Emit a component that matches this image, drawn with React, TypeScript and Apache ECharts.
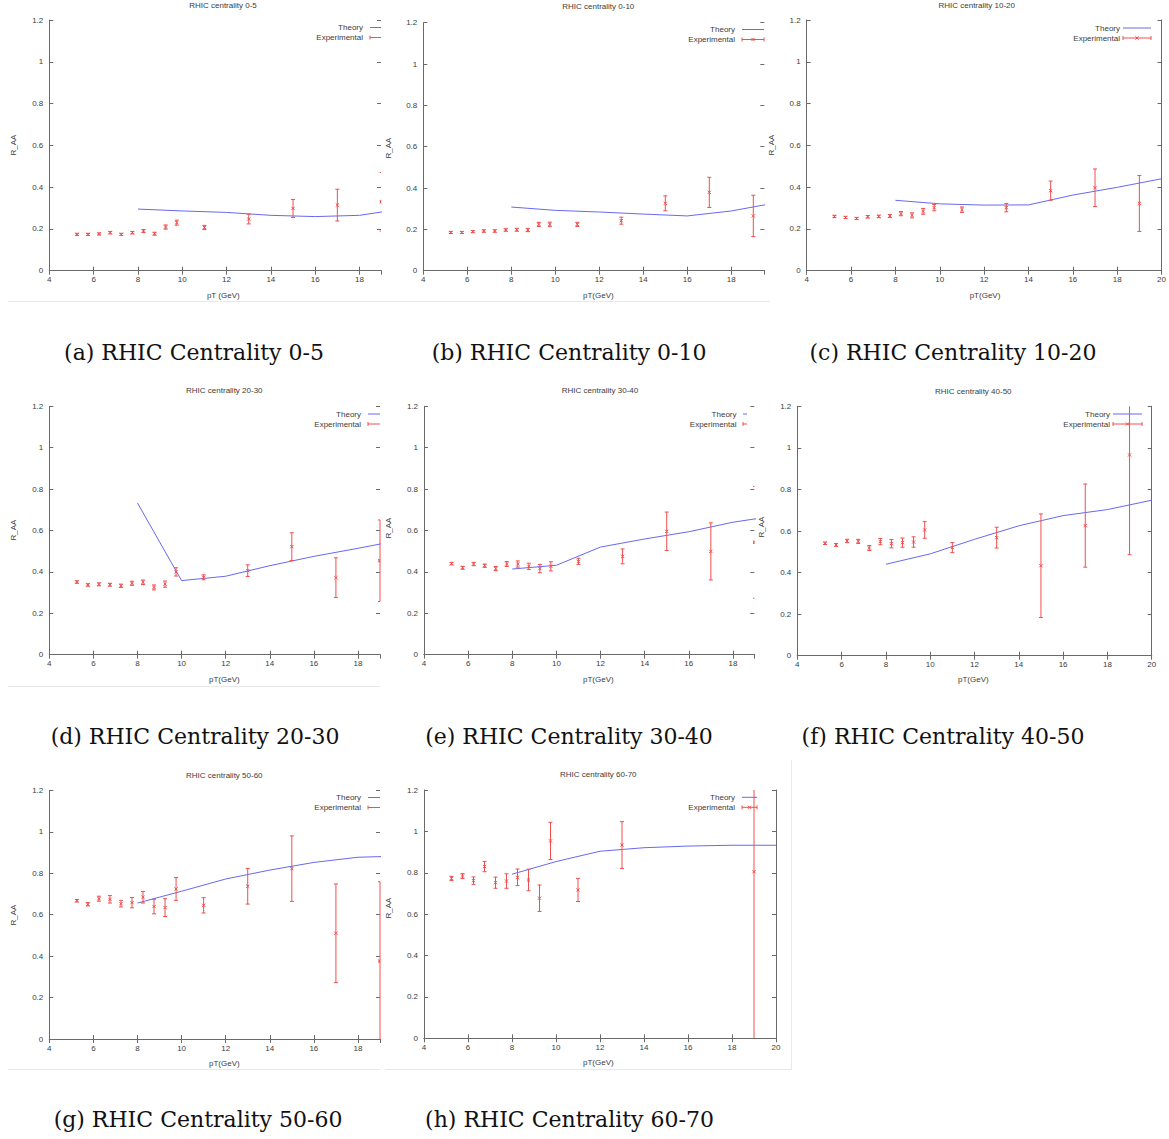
import React, { useEffect, useRef } from 'react';
import * as echarts from 'echarts';

// ---------- DATA ----------
const expX = [5.25, 5.75, 6.25, 6.75, 7.25, 7.75, 8.25, 8.75, 9.25, 9.75, 11, 13, 15, 17, 19];
const expXH = [5.25, 5.75, 6.25, 6.75, 7.25, 7.75, 8.25, 8.75, 9.25, 9.75, 11, 13, 19];
const theoryX = [8, 10, 12, 14, 16, 18, 20];
const yTicks = [0, 0.2, 0.4, 0.6, 0.8, 1, 1.2];

const expA = [0.174, 0.174, 0.176, 0.182, 0.174, 0.182, 0.19, 0.177, 0.209, 0.23, 0.207, 0.247, 0.298, 0.314, 0.33];
const errA = [0.005, 0.005, 0.005, 0.006, 0.005, 0.006, 0.007, 0.007, 0.01, 0.012, 0.01, 0.023, 0.043, 0.076, 0.14];
const theoryA = [0.295, 0.286, 0.279, 0.265, 0.259, 0.265, 0.297];

const expB = [0.185, 0.185, 0.189, 0.192, 0.192, 0.197, 0.198, 0.197, 0.224, 0.224, 0.224, 0.242, 0.326, 0.379, 0.265];
const errB = [0.005, 0.005, 0.005, 0.006, 0.006, 0.006, 0.007, 0.008, 0.01, 0.011, 0.01, 0.017, 0.036, 0.073, 0.1];
const theoryB = [0.308, 0.292, 0.284, 0.274, 0.265, 0.289, 0.328];

const expC = [0.26, 0.255, 0.25, 0.258, 0.26, 0.262, 0.273, 0.265, 0.284, 0.302, 0.292, 0.302, 0.383, 0.397, 0.322];
const errC = [0.005, 0.005, 0.005, 0.006, 0.006, 0.007, 0.01, 0.012, 0.014, 0.015, 0.013, 0.02, 0.046, 0.09, 0.134];
const theoryC = [0.337, 0.32, 0.314, 0.315, 0.362, 0.399, 0.44];

const expD = [0.351, 0.337, 0.34, 0.338, 0.333, 0.345, 0.35, 0.325, 0.341, 0.4, 0.374, 0.406, 0.522, 0.372, 0.454];
const errD = [0.006, 0.006, 0.007, 0.007, 0.008, 0.01, 0.011, 0.012, 0.015, 0.02, 0.012, 0.028, 0.067, 0.096, 0.197];
const theoryD = [0.733, 0.358, 0.379, 0.43, 0.475, 0.514, 0.555];

const expE = [0.44, 0.42, 0.438, 0.43, 0.416, 0.438, 0.438, 0.427, 0.416, 0.427, 0.451, 0.475, 0.596, 0.499, 0.543];
const errE = [0.006, 0.007, 0.008, 0.008, 0.01, 0.012, 0.015, 0.015, 0.02, 0.022, 0.015, 0.036, 0.093, 0.138, 0.27];
const theoryE = [0.414, 0.432, 0.52, 0.559, 0.594, 0.64, 0.672];

const expF = [0.541, 0.533, 0.552, 0.55, 0.518, 0.549, 0.539, 0.544, 0.547, 0.605, 0.52, 0.568, 0.433, 0.626, 0.966];
const errF = [0.006, 0.007, 0.008, 0.01, 0.012, 0.015, 0.02, 0.022, 0.025, 0.04, 0.024, 0.05, 0.249, 0.2, 0.48];
const theoryF = [0.44, 0.49, 0.56, 0.625, 0.674, 0.703, 0.748];

const expG = [0.667, 0.65, 0.677, 0.674, 0.653, 0.658, 0.684, 0.639, 0.634, 0.724, 0.645, 0.737, 0.822, 0.51, 0.376];
const errG = [0.006, 0.008, 0.012, 0.018, 0.016, 0.025, 0.028, 0.035, 0.043, 0.055, 0.037, 0.086, 0.158, 0.238, 0.383];
const theoryG = [0.656, 0.713, 0.772, 0.815, 0.852, 0.877, 0.883];

const expH = [0.773, 0.784, 0.762, 0.83, 0.752, 0.76, 0.778, 0.765, 0.677, 0.954, 0.717, 0.934, 0.805];
const errH = [0.01, 0.012, 0.018, 0.025, 0.027, 0.035, 0.04, 0.052, 0.064, 0.09, 0.056, 0.113, 0.95];
const theoryH = [0.793, 0.854, 0.904, 0.921, 0.929, 0.933, 0.933];

const titles = [
  'RHIC centrality 0-5', 'RHIC centrality 0-10', 'RHIC centrality 10-20', 'RHIC centrality 20-30',
  'RHIC centrality 30-40', 'RHIC centrality 40-50', 'RHIC centrality 50-60', 'RHIC centrality 60-70',
];
const captions = [
  '(a) RHIC Centrality 0-5', '(b) RHIC Centrality 0-10', '(c) RHIC Centrality 10-20', '(d) RHIC Centrality 20-30',
  '(e) RHIC Centrality 30-40', '(f) RHIC Centrality 40-50', '(g) RHIC Centrality 50-60', '(h) RHIC Centrality 60-70',
];
const xNames = ['pT (GeV)', 'pT(GeV)', 'pT(GeV)', 'pT(GeV)', 'pT(GeV)', 'pT(GeV)', 'pT(GeV)', 'pT(GeV)'];
// visible (cropped) x-range of each screenshot
const xMaxes = [18.97, 19.5, 20, 19, 18.97, 20, 19, 20];

const expSets = [
  [expX, expA, errA], [expX, expB, errB], [expX, expC, errC], [expX, expD, errD],
  [expX, expE, errE], [expX, expF, errF], [expX, expG, errG], [expXH, expH, errH],
];
const theorySets = [theoryA, theoryB, theoryC, theoryD, theoryE, theoryF, theoryG, theoryH];

// ---------- LAYOUT (positions/sizes only) ----------
const LAYOUT = [
  { grid: [49.3, 20, 331.7, 250.7], rightLine: false, title: [223, 5.5], xl: [223.3, 295], yl: [13, 145], leg: [363, 27.5, 37.5, 370, 28, 381], cap: [194, 352] },
  { grid: [423.3, 22.7, 341, 248], rightLine: false, title: [598.3, 6.5], xl: [598.3, 295], yl: [388, 148], leg: [735, 29.5, 39.5, 742, 22, 764.3], cap: [569, 352] },
  { grid: [806.7, 20, 355, 250.7], rightLine: true, title: [976.7, 5.7], xl: [985, 295], yl: [771, 145], leg: [1120, 28, 38, 1123, 28, 1162], cap: [953, 352] },
  { grid: [49.3, 406.3, 330.7, 248.4], rightLine: false, title: [224.3, 390.3], xl: [224.3, 679], yl: [13, 530], leg: [361, 414, 424, 368, 28, 380], cap: [195, 736] },
  { grid: [424, 406.3, 330.3, 248.4], rightLine: false, title: [600, 390.7], xl: [598.3, 679], yl: [388, 528], leg: [736.5, 414, 424, 743, 28, 747], cap: [569, 736] },
  { grid: [797.3, 406.3, 354.4, 249.4], rightLine: true, title: [973.3, 391], xl: [973.3, 679.7], yl: [761, 527], leg: [1110, 414, 424, 1113, 29, 1152], cap: [943, 736] },
  { grid: [49.3, 790.3, 330.7, 248.7], rightLine: false, title: [224.3, 775], xl: [224.3, 1063.3], yl: [13, 915], leg: [361, 797.5, 807.5, 368, 28, 380], cap: [198, 1119] },
  { grid: [424, 790, 352, 248.3], rightLine: true, title: [598.3, 774.7], xl: [598.3, 1062.7], yl: [388, 908], leg: [735, 797.3, 807.3, 742, 15, 776], cap: [569.5, 1119] },
];

const RED = '#f24e4e';
const BLUE = '#6868f2';
const AXIS = '#6a6a6a';
const TXT = '#3c3c3c';
const SMALL = '8px "Liberation Sans", Arial, sans-serif';

function errorBarItem(params: any, api: any) {
  const x = api.value(0);
  const y = api.value(1);
  const e = api.value(2);
  const cs = params.coordSys;
  const L = cs.x, R = cs.x + cs.width, T = cs.y, B = cs.y + cs.height;
  const p = api.coord([x, y]);
  const top = api.coord([x, y + e]);
  const bot = api.coord([x, y - e]);
  if (p[0] < L - 2 || p[0] > R + 2) return null;
  const st = { stroke: RED, lineWidth: 1 };
  const children: any[] = [];
  const y1 = Math.max(top[1], T);
  const y2 = Math.min(bot[1], B);
  if (y2 > y1 && p[0] <= R + 0.3) children.push({ type: 'line', shape: { x1: p[0], y1, x2: p[0], y2 }, style: st });
  const cl = Math.max(p[0] - 2, L), cr = Math.min(p[0] + 2, R);
  if (top[1] >= T && top[1] <= B) children.push({ type: 'line', shape: { x1: cl, y1: top[1], x2: cr, y2: top[1] }, style: st });
  if (bot[1] >= T && bot[1] <= B) children.push({ type: 'line', shape: { x1: cl, y1: bot[1], x2: cr, y2: bot[1] }, style: st });
  if (p[1] >= T && p[1] <= B) {
    const s = 1.6;
    const ml = Math.max(p[0] - s, L), mr = Math.min(p[0] + s, R);
    children.push({ type: 'line', shape: { x1: ml, y1: p[1] - s, x2: mr, y2: p[1] + s }, style: st });
    children.push({ type: 'line', shape: { x1: ml, y1: p[1] + s, x2: mr, y2: p[1] - s }, style: st });
  }
  return { type: 'group', children };
}

function buildOption() {
  const grid: any[] = [];
  const xAxis: any[] = [];
  const yAxis: any[] = [];
  const series: any[] = [];
  const graphic: any[] = [];

  LAYOUT.forEach((lay, i) => {
    const [l, t, w, h] = lay.grid;
    grid.push({ left: l, top: t, width: w, height: h, containLabel: false });
    const xMax = xMaxes[i];
    const common = { type: 'value', gridIndex: i, min: 4, max: xMax, interval: 2 };
    xAxis.push({
      ...common, position: 'bottom',
      axisLine: { show: true, lineStyle: { color: AXIS, width: 1 } },
      axisTick: { show: true, inside: true, length: 4, lineStyle: { color: AXIS } },
      axisLabel: {
        show: true, margin: 5, color: TXT, fontSize: 8, fontFamily: '"Liberation Sans", Arial, sans-serif',
        formatter: (v: number) => (v % 2 === 0 ? String(v) : ''),
        showMaxLabel: xMax % 2 === 0,
      },
      splitLine: { show: false },
    });
    xAxis.push({
      ...common, position: 'top',
      axisLine: { show: true, lineStyle: { color: AXIS, width: 1 } },
      axisTick: { show: true, inside: true, length: 4, lineStyle: { color: AXIS } },
      axisLabel: { show: false },
      splitLine: { show: false },
    });
    const yCommon = { type: 'value', gridIndex: i, min: yTicks[0], max: yTicks[yTicks.length - 1], interval: 0.2 };
    yAxis.push({
      ...yCommon, position: 'left',
      axisLine: { show: true, lineStyle: { color: AXIS, width: 1 } },
      axisTick: { show: true, inside: true, length: 4, lineStyle: { color: AXIS } },
      axisLabel: { show: true, margin: 6, color: TXT, fontSize: 8, fontFamily: '"Liberation Sans", Arial, sans-serif' },
      splitLine: { show: false },
    });
    yAxis.push({
      ...yCommon, position: 'right',
      axisLine: { show: lay.rightLine, lineStyle: { color: AXIS, width: 1 } },
      axisTick: { show: true, inside: true, length: 4, lineStyle: { color: AXIS } },
      axisLabel: { show: false },
      splitLine: { show: false },
    });

    series.push({
      type: 'line', name: 'Theory', xAxisIndex: 2 * i, yAxisIndex: 2 * i,
      data: theoryX.map((x, k) => [x, theorySets[i][k]]),
      showSymbol: false, symbol: 'none', clip: true,
      lineStyle: { color: BLUE, width: 1 }, silent: true, z: 3,
    });
    const [xs, ys, es] = expSets[i];
    series.push({
      type: 'custom', name: 'Experimental', xAxisIndex: 2 * i, yAxisIndex: 2 * i,
      data: xs.map((x: number, k: number) => [x, ys[k], es[k]]),
      renderItem: errorBarItem, silent: true, z: 4,
    });

    graphic.push({ type: 'text', x: lay.title[0], y: lay.title[1], silent: true,
      style: { text: titles[i], font: SMALL, fill: TXT, textAlign: 'center', textVerticalAlign: 'middle' } });
    graphic.push({ type: 'text', x: lay.xl[0], y: lay.xl[1], silent: true,
      style: { text: xNames[i], font: SMALL, fill: TXT, textAlign: 'center', textVerticalAlign: 'middle' } });
    graphic.push({ type: 'text', x: lay.yl[0], y: lay.yl[1], rotation: Math.PI / 2, silent: true,
      style: { text: 'R_AA', font: SMALL, fill: TXT, textAlign: 'center', textVerticalAlign: 'middle' } });
    const [tr, yT, yE, x1, len, clipR] = lay.leg;
    graphic.push({ type: 'text', x: tr, y: yT, silent: true,
      style: { text: 'Theory', font: SMALL, fill: TXT, textAlign: 'right', textVerticalAlign: 'middle' } });
    graphic.push({ type: 'text', x: tr, y: yE, silent: true,
      style: { text: 'Experimental', font: SMALL, fill: TXT, textAlign: 'right', textVerticalAlign: 'middle' } });
    const x2 = Math.min(x1 + len, clipR);
    graphic.push({ type: 'line', silent: true, shape: { x1, y1: yT, x2, y2: yT }, style: { stroke: BLUE, lineWidth: 1 } });
    graphic.push({ type: 'line', silent: true, shape: { x1, y1: yE, x2, y2: yE }, style: { stroke: RED, lineWidth: 1 } });
    graphic.push({ type: 'line', silent: true, shape: { x1, y1: yE - 2, x2: x1, y2: yE + 2 }, style: { stroke: RED, lineWidth: 1 } });
    if (x1 + len <= clipR) {
      graphic.push({ type: 'line', silent: true, shape: { x1: x1 + len, y1: yE - 2, x2: x1 + len, y2: yE + 2 }, style: { stroke: RED, lineWidth: 1 } });
    }
    const mx = x1 + len / 2;
    if (mx + 1.6 <= clipR) {
      graphic.push({ type: 'line', silent: true, shape: { x1: mx - 1.6, y1: yE - 1.6, x2: mx + 1.6, y2: yE + 1.6 }, style: { stroke: RED, lineWidth: 1 } });
      graphic.push({ type: 'line', silent: true, shape: { x1: mx - 1.6, y1: yE + 1.6, x2: mx + 1.6, y2: yE - 1.6 }, style: { stroke: RED, lineWidth: 1 } });
    }
    graphic.push({ type: 'text', x: lay.cap[0], y: lay.cap[1], silent: true,
      style: { text: captions[i], font: '22px "DejaVu Serif", serif', fill: '#111', textAlign: 'center', textVerticalAlign: 'middle' } });
  });

  const frame = [
    [8, 301.5, 770, 301.5], [8, 686.5, 380, 686.5], [8, 1069.5, 380, 1069.5],
    [385, 1069.5, 792, 1069.5], [791.5, 760, 791.5, 1069.5],
  ];
  frame.forEach(([a, b, c, d]) => graphic.push({ type: 'line', silent: true, shape: { x1: a, y1: b, x2: c, y2: d }, style: { stroke: '#e8e8e8', lineWidth: 1 } }));

  return {
    animation: false,
    backgroundColor: '#ffffff',
    grid, xAxis, yAxis, series, graphic,
  };
}

export default function App() {
  const ref = useRef<HTMLDivElement>(null);
  useEffect(() => {
    if (!ref.current) return;
    const chart = echarts.init(ref.current, undefined, { renderer: 'svg' });
    chart.setOption(buildOption() as any);
    return () => chart.dispose();
  }, []);
  return (
    <div
      ref={ref}
      style={{ position: 'absolute', left: 0, top: 0, width: 1169, height: 1139, background: '#fff' }}
    />
  );
}
